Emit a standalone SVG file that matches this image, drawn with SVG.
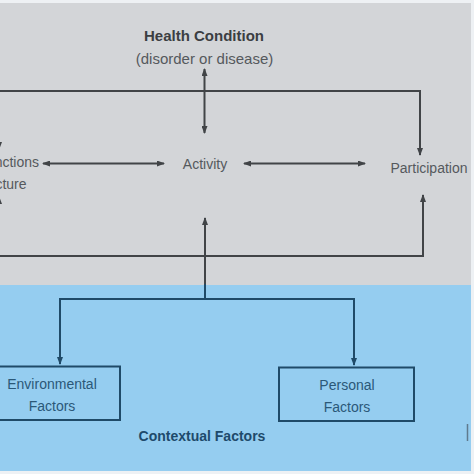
<svg xmlns="http://www.w3.org/2000/svg" width="474" height="474" viewBox="0 0 474 474">
  <defs>
    <style>
      .t { font-family: "Liberation Sans", Arial, sans-serif; }
      .g { fill: #55595d; font-size: 14px; }
      .b { fill: #2b5878; font-size: 14px; }
      .ln { fill: none; stroke: #414447; stroke-width: 2; }
      .lb { fill: none; stroke: #1f4a68; stroke-width: 2; }
      .box { fill: none; stroke: #1f4a68; stroke-width: 2; }
    </style>
    <marker id="ag" viewBox="0 0 8 6" refX="7" refY="3" markerWidth="8" markerHeight="6" markerUnits="userSpaceOnUse" orient="auto-start-reverse">
      <path d="M0,0 L8,3 L0,6 Z" fill="#414447"/>
    </marker>
    <marker id="ab" viewBox="0 0 8 6" refX="7" refY="3" markerWidth="8" markerHeight="6" markerUnits="userSpaceOnUse" orient="auto-start-reverse">
      <path d="M0,0 L8,3 L0,6 Z" fill="#1f4a68"/>
    </marker>
  </defs>
  <rect x="0" y="0" width="474" height="474" fill="#eef1f4"/>
  <rect x="0" y="3" width="471" height="282" fill="#d3d5d8"/>
  <rect x="0" y="285" width="471" height="186" fill="#95cdf0"/>

  <g id="connectors">
    <path class="ln" d="M -1 149 V 91 H 420 V 155" marker-start="url(#ag)" marker-end="url(#ag)"/>
    <path class="ln" d="M 204.5 69 V 133" marker-start="url(#ag)" marker-end="url(#ag)"/>
    <path class="ln" d="M 43 163.5 H 164" marker-start="url(#ag)" marker-end="url(#ag)"/>
    <path class="ln" d="M 244 163.5 H 365" marker-start="url(#ag)" marker-end="url(#ag)"/>
    <path class="ln" d="M -1 197 V 256 H 423 V 195" marker-start="url(#ag)" marker-end="url(#ag)"/>
    <path class="ln" d="M 205 285 V 218" marker-end="url(#ag)"/>
    <path class="lb" d="M 205 284 V 299"/>
    <path class="lb" d="M 60 364 V 299 H 354 V 365" marker-start="url(#ab)" marker-end="url(#ab)"/>
  </g>

  <g id="health-condition">
    <text class="t" x="204" y="41" text-anchor="middle" font-size="15" font-weight="bold" fill="#3b3e42">Health Condition</text>
    <text class="t" x="204.5" y="64" text-anchor="middle" font-size="15" fill="#55595d">(disorder or disease)</text>
  </g>

  <g id="body-functions">
    <text class="t g" x="-57.5" y="167">Body Functions</text>
    <text class="t g" x="-57.5" y="189">and Structure</text>
  </g>

  <g id="activity">
    <text class="t g" x="205" y="169" text-anchor="middle">Activity</text>
  </g>

  <g id="participation">
    <text class="t g" x="429" y="173" text-anchor="middle">Participation</text>
  </g>

  <g id="environmental-factors">
    <rect class="box" x="-16" y="366.5" width="136" height="53.5"/>
    <text class="t b" x="52" y="389" text-anchor="middle">Environmental</text>
    <text class="t b" x="52" y="411" text-anchor="middle">Factors</text>
  </g>

  <g id="personal-factors">
    <rect class="box" x="279" y="367.5" width="135" height="53.5"/>
    <text class="t b" x="347" y="390" text-anchor="middle">Personal</text>
    <text class="t b" x="347" y="411.5" text-anchor="middle">Factors</text>
  </g>

  <g id="contextual-factors">
    <text class="t" x="202" y="441" text-anchor="middle" font-size="14" font-weight="bold" fill="#1e4a6b">Contextual Factors</text>
  </g>

  <line x1="467.5" y1="424" x2="467.5" y2="441" stroke="#5f7a8e" stroke-width="1.5"/>
</svg>
